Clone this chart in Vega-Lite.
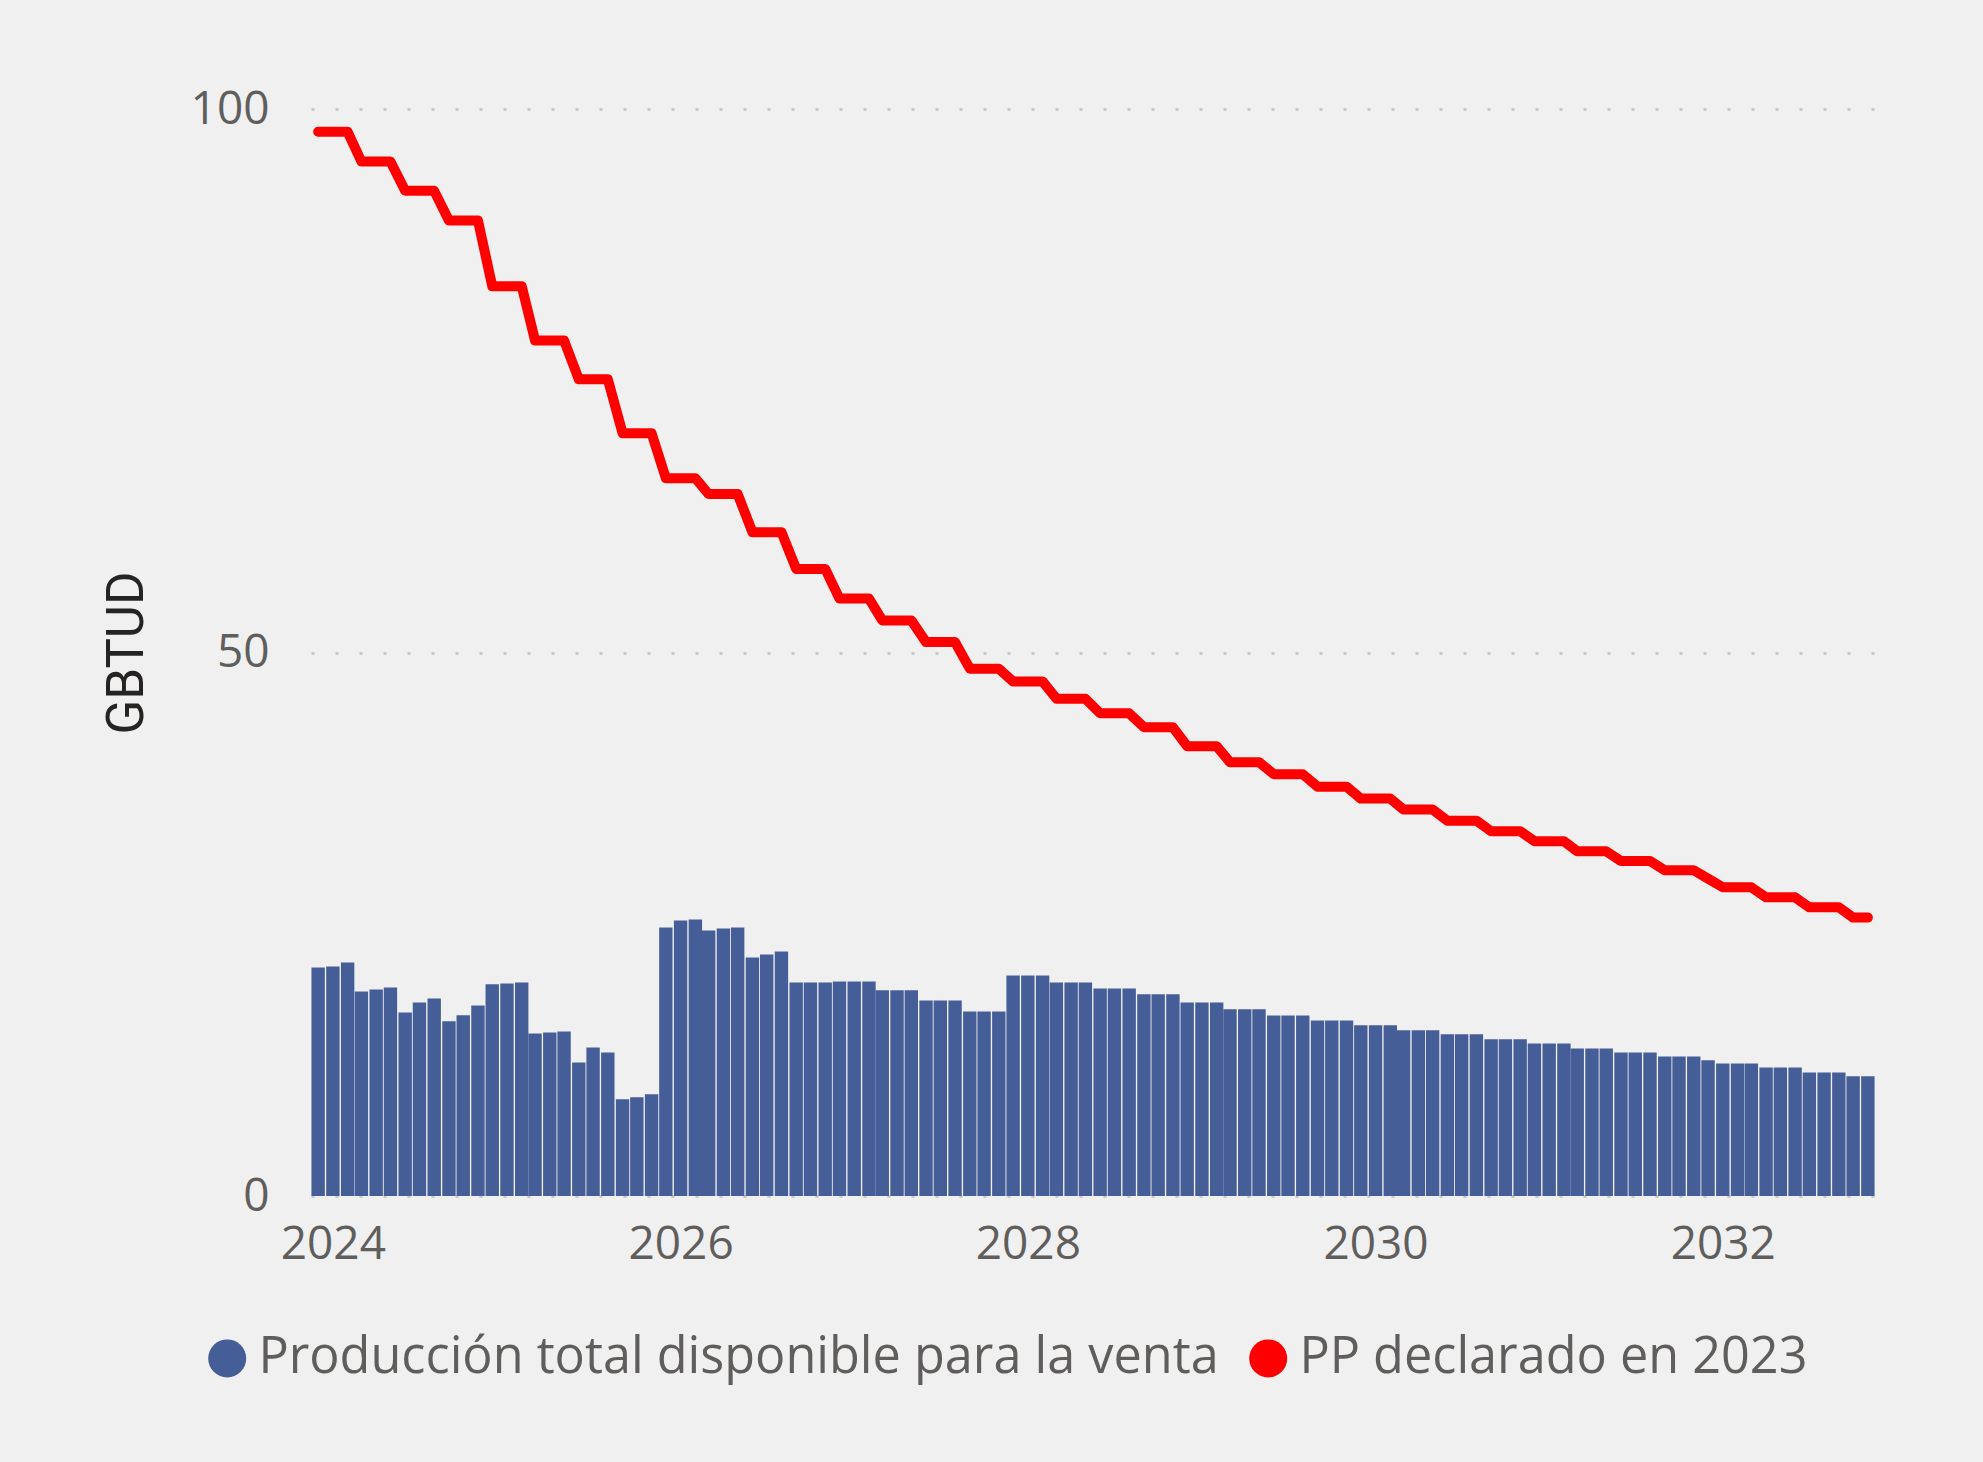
{
  "$schema": "https://vega.github.io/schema/vega-lite/v6.json",
  "width": 1564,
  "height": 1087,
  "autosize": {"type": "none"},
  "padding": {"left": 311, "top": 109, "right": 108, "bottom": 266},
  "background": "#f0f0f0",
  "config": {"view": {"stroke": null}, "font": "Open Sans"},
  "data": {
    "values": [
      {"fecha": "2023-12-01", "produccion": 21.03, "pp": 97.9},
      {"fecha": "2024-01-01", "produccion": 21.12, "pp": 97.9},
      {"fecha": "2024-02-01", "produccion": 21.49, "pp": 97.9},
      {"fecha": "2024-03-01", "produccion": 18.82, "pp": 95.17},
      {"fecha": "2024-04-01", "produccion": 19.0, "pp": 95.17},
      {"fecha": "2024-05-01", "produccion": 19.19, "pp": 95.17},
      {"fecha": "2024-06-01", "produccion": 16.89, "pp": 92.47},
      {"fecha": "2024-07-01", "produccion": 17.81, "pp": 92.47},
      {"fecha": "2024-08-01", "produccion": 18.18, "pp": 92.47},
      {"fecha": "2024-09-01", "produccion": 16.07, "pp": 89.74},
      {"fecha": "2024-10-01", "produccion": 16.62, "pp": 89.74},
      {"fecha": "2024-11-01", "produccion": 17.53, "pp": 89.74},
      {"fecha": "2024-12-01", "produccion": 19.47, "pp": 83.7},
      {"fecha": "2025-01-01", "produccion": 19.56, "pp": 83.7},
      {"fecha": "2025-02-01", "produccion": 19.65, "pp": 83.7},
      {"fecha": "2025-03-01", "produccion": 14.96, "pp": 78.7},
      {"fecha": "2025-04-01", "produccion": 15.05, "pp": 78.7},
      {"fecha": "2025-05-01", "produccion": 15.14, "pp": 78.7},
      {"fecha": "2025-06-01", "produccion": 12.29, "pp": 75.14},
      {"fecha": "2025-07-01", "produccion": 13.67, "pp": 75.14},
      {"fecha": "2025-08-01", "produccion": 13.21, "pp": 75.14},
      {"fecha": "2025-09-01", "produccion": 8.89, "pp": 70.18},
      {"fecha": "2025-10-01", "produccion": 9.08, "pp": 70.18},
      {"fecha": "2025-11-01", "produccion": 9.35, "pp": 70.18},
      {"fecha": "2025-12-01", "produccion": 24.71, "pp": 66.04},
      {"fecha": "2026-01-01", "produccion": 25.35, "pp": 66.04},
      {"fecha": "2026-02-01", "produccion": 25.44, "pp": 66.04},
      {"fecha": "2026-03-01", "produccion": 24.43, "pp": 64.57},
      {"fecha": "2026-04-01", "produccion": 24.61, "pp": 64.57},
      {"fecha": "2026-05-01", "produccion": 24.71, "pp": 64.57},
      {"fecha": "2026-06-01", "produccion": 21.95, "pp": 61.07},
      {"fecha": "2026-07-01", "produccion": 22.22, "pp": 61.07},
      {"fecha": "2026-08-01", "produccion": 22.5, "pp": 61.07},
      {"fecha": "2026-09-01", "produccion": 19.65, "pp": 57.69},
      {"fecha": "2026-10-01", "produccion": 19.65, "pp": 57.69},
      {"fecha": "2026-11-01", "produccion": 19.65, "pp": 57.69},
      {"fecha": "2026-12-01", "produccion": 19.74, "pp": 54.96},
      {"fecha": "2027-01-01", "produccion": 19.74, "pp": 54.96},
      {"fecha": "2027-02-01", "produccion": 19.74, "pp": 54.96},
      {"fecha": "2027-03-01", "produccion": 18.92, "pp": 52.95},
      {"fecha": "2027-04-01", "produccion": 18.92, "pp": 52.95},
      {"fecha": "2027-05-01", "produccion": 18.92, "pp": 52.95},
      {"fecha": "2027-06-01", "produccion": 17.99, "pp": 50.96},
      {"fecha": "2027-07-01", "produccion": 17.99, "pp": 50.96},
      {"fecha": "2027-08-01", "produccion": 17.99, "pp": 50.96},
      {"fecha": "2027-09-01", "produccion": 16.98, "pp": 48.51},
      {"fecha": "2027-10-01", "produccion": 16.98, "pp": 48.51},
      {"fecha": "2027-11-01", "produccion": 16.98, "pp": 48.51},
      {"fecha": "2027-12-01", "produccion": 20.29, "pp": 47.34},
      {"fecha": "2028-01-01", "produccion": 20.29, "pp": 47.34},
      {"fecha": "2028-02-01", "produccion": 20.29, "pp": 47.34},
      {"fecha": "2028-03-01", "produccion": 19.65, "pp": 45.75},
      {"fecha": "2028-04-01", "produccion": 19.65, "pp": 45.75},
      {"fecha": "2028-05-01", "produccion": 19.65, "pp": 45.75},
      {"fecha": "2028-06-01", "produccion": 19.1, "pp": 44.41},
      {"fecha": "2028-07-01", "produccion": 19.1, "pp": 44.41},
      {"fecha": "2028-08-01", "produccion": 19.1, "pp": 44.41},
      {"fecha": "2028-09-01", "produccion": 18.55, "pp": 43.13},
      {"fecha": "2028-10-01", "produccion": 18.55, "pp": 43.13},
      {"fecha": "2028-11-01", "produccion": 18.55, "pp": 43.13},
      {"fecha": "2028-12-01", "produccion": 17.81, "pp": 41.38},
      {"fecha": "2029-01-01", "produccion": 17.81, "pp": 41.38},
      {"fecha": "2029-02-01", "produccion": 17.81, "pp": 41.38},
      {"fecha": "2029-03-01", "produccion": 17.17, "pp": 39.91},
      {"fecha": "2029-04-01", "produccion": 17.17, "pp": 39.91},
      {"fecha": "2029-05-01", "produccion": 17.17, "pp": 39.91},
      {"fecha": "2029-06-01", "produccion": 16.61, "pp": 38.8},
      {"fecha": "2029-07-01", "produccion": 16.61, "pp": 38.8},
      {"fecha": "2029-08-01", "produccion": 16.61, "pp": 38.8},
      {"fecha": "2029-09-01", "produccion": 16.15, "pp": 37.66},
      {"fecha": "2029-10-01", "produccion": 16.15, "pp": 37.66},
      {"fecha": "2029-11-01", "produccion": 16.15, "pp": 37.66},
      {"fecha": "2029-12-01", "produccion": 15.7, "pp": 36.56},
      {"fecha": "2030-01-01", "produccion": 15.7, "pp": 36.56},
      {"fecha": "2030-02-01", "produccion": 15.7, "pp": 36.56},
      {"fecha": "2030-03-01", "produccion": 15.24, "pp": 35.55},
      {"fecha": "2030-04-01", "produccion": 15.24, "pp": 35.55},
      {"fecha": "2030-05-01", "produccion": 15.24, "pp": 35.55},
      {"fecha": "2030-06-01", "produccion": 14.87, "pp": 34.53},
      {"fecha": "2030-07-01", "produccion": 14.87, "pp": 34.53},
      {"fecha": "2030-08-01", "produccion": 14.87, "pp": 34.53},
      {"fecha": "2030-09-01", "produccion": 14.41, "pp": 33.56},
      {"fecha": "2030-10-01", "produccion": 14.41, "pp": 33.56},
      {"fecha": "2030-11-01", "produccion": 14.41, "pp": 33.56},
      {"fecha": "2030-12-01", "produccion": 14.04, "pp": 32.64},
      {"fecha": "2031-01-01", "produccion": 14.04, "pp": 32.64},
      {"fecha": "2031-02-01", "produccion": 14.04, "pp": 32.64},
      {"fecha": "2031-03-01", "produccion": 13.58, "pp": 31.71},
      {"fecha": "2031-04-01", "produccion": 13.58, "pp": 31.71},
      {"fecha": "2031-05-01", "produccion": 13.58, "pp": 31.71},
      {"fecha": "2031-06-01", "produccion": 13.21, "pp": 30.82},
      {"fecha": "2031-07-01", "produccion": 13.21, "pp": 30.82},
      {"fecha": "2031-08-01", "produccion": 13.21, "pp": 30.82},
      {"fecha": "2031-09-01", "produccion": 12.84, "pp": 29.97},
      {"fecha": "2031-10-01", "produccion": 12.84, "pp": 29.97},
      {"fecha": "2031-11-01", "produccion": 12.84, "pp": 29.97},
      {"fecha": "2031-12-01", "produccion": 12.48, "pp": 29.2},
      {"fecha": "2032-01-01", "produccion": 12.2, "pp": 28.4},
      {"fecha": "2032-02-01", "produccion": 12.2, "pp": 28.4},
      {"fecha": "2032-03-01", "produccion": 12.2, "pp": 28.4},
      {"fecha": "2032-04-01", "produccion": 11.83, "pp": 27.48},
      {"fecha": "2032-05-01", "produccion": 11.83, "pp": 27.48},
      {"fecha": "2032-06-01", "produccion": 11.83, "pp": 27.48},
      {"fecha": "2032-07-01", "produccion": 11.37, "pp": 26.56},
      {"fecha": "2032-08-01", "produccion": 11.37, "pp": 26.56},
      {"fecha": "2032-09-01", "produccion": 11.37, "pp": 26.56},
      {"fecha": "2032-10-01", "produccion": 11.01, "pp": 25.61},
      {"fecha": "2032-11-01", "produccion": 11.01, "pp": 25.61}
    ]
  },
  "layer": [
    {
      "mark": {"type": "bar", "width": 13.4},
      "encoding": {
        "x": {
          "field": "fecha",
          "type": "temporal",
          "scale": {
            "type": "utc",
            "padding": 0,
            "domain": [
              {"year": 2023, "month": 11, "date": 16, "utc": true},
              {"year": 2032, "month": 11, "date": 16, "utc": true}
            ]
          },
          "axis": {
            "title": null,
            "values": [
              {"year": 2024, "month": 1, "date": 1, "utc": true},
              {"year": 2026, "month": 1, "date": 1, "utc": true},
              {"year": 2028, "month": 1, "date": 1, "utc": true},
              {"year": 2030, "month": 1, "date": 1, "utc": true},
              {"year": 2032, "month": 1, "date": 1, "utc": true}
            ],
            "format": "%Y",
            "formatType": "utc",
            "labelFont": "Open Sans",
            "labelFontSize": 46,
            "labelColor": "#605e5c",
            "labelBaseline": "alphabetic",
            "labelPadding": 62,
            "labelFlush": false,
            "labelOverlap": false,
            "ticks": false,
            "tickSize": 0,
            "domain": false,
            "grid": false
          }
        },
        "y": {
          "field": "produccion",
          "type": "quantitative",
          "scale": {"domain": [0, 100], "nice": false},
          "axis": {
            "title": "GBTUD",
            "values": [0, 50, 100],
            "grid": true,
            "gridDash": [3, 21],
            "gridColor": "#c8c8c8",
            "gridWidth": 3,
            "domain": false,
            "ticks": false,
            "tickSize": 0,
            "labelPadding": 42,
            "labelFont": "Open Sans",
            "labelFontSize": 46,
            "labelColor": "#605e5c",
            "titleFont": "Roboto",
            "titleFontSize": 51,
            "titleFontWeight": "normal",
            "titleColor": "#252423",
            "titleAngle": -90,
            "titleX": -169,
            "titleY": 543.5,
            "titleAlign": "center",
            "titleBaseline": "alphabetic"
          }
        },
        "color": {
          "datum": "Producción total disponible para la venta",
          "type": "nominal",
          "scale": {
            "domain": ["Producción total disponible para la venta", "PP declarado en 2023"],
            "range": ["#465E97", "#FF0000"]
          },
          "legend": {
            "title": null,
            "orient": "none",
            "legendX": -109,
            "legendY": 1224,
            "direction": "horizontal",
            "padding": 0,
            "labelFont": "Open Sans",
            "labelFontSize": 50.4,
            "labelColor": "#605e5c",
            "labelLimit": 2000,
            "labelOffset": 6,
            "columnPadding": 24,
            "symbolType": "circle",
            "symbolSize": 1444,
            "symbolStrokeWidth": 0,
            "encode": {
              "symbols": {
                "update": {
                  "fill": {"scale": "color", "field": "value"},
                  "opacity": {"value": 1},
                  "strokeWidth": {"value": 0}
                }
              }
            }
          }
        }
      }
    },
    {
      "mark": {"type": "line", "strokeWidth": 10, "strokeCap": "round", "strokeJoin": "round"},
      "encoding": {
        "x": {"field": "fecha", "type": "temporal"},
        "y": {"field": "pp", "type": "quantitative"},
        "color": {"datum": "PP declarado en 2023", "type": "nominal"}
      }
    }
  ]
}
